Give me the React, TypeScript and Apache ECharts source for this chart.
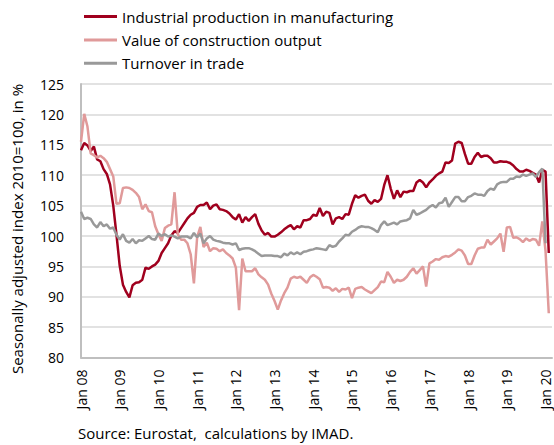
import React, { useEffect, useRef } from "react";
import * as echarts from "echarts";

const MONTHS = ["Jan", "Feb", "Mar", "Apr", "May", "Jun", "Jul", "Aug", "Sep", "Oct", "Nov", "Dec"];
const START_YEAR = 2008;
const N_CATEGORIES = 147;
const categories: string[] = Array.from({ length: N_CATEGORIES }, (_, i) => {
  const y = START_YEAR + Math.floor(i / 12);
  return `${MONTHS[i % 12]} ${String(y % 100).padStart(2, "0")}`;
});

const yTicks = { min: 80, max: 125, step: 5 };

const manufacturing: (number | null)[] = [
  114.1, 115.3, 114.9, 114.0, 114.7, 112.6, 112.3, 111.0, 110.2, 108.5,
  105.0, 100.2, 95.1, 92.0, 90.8, 89.9, 91.9, 92.3, 92.4, 92.8,
  94.8, 94.6, 95.0, 95.3, 95.9, 97.2, 98.0, 98.8, 100.1, 100.8,
  100.5, 101.3, 102.1, 102.9, 103.5, 103.8, 104.8, 105.1, 105.1, 105.5,
  104.4, 105.0, 105.2, 104.4, 104.3, 104.1, 103.7, 103.1, 102.7, 103.6,
  102.2, 103.1, 102.5, 103.1, 103.6, 102.0, 100.9, 100.2, 100.5, 99.9,
  99.9, 100.2, 100.6, 101.1, 101.5, 101.8, 101.1, 101.6, 101.4, 102.6,
  102.6, 102.8, 103.5, 103.3, 104.6, 103.3, 104.0, 103.8, 101.9, 102.9,
  103.1, 102.8, 103.6, 103.5, 105.3, 106.7, 106.3, 106.6, 106.8, 105.8,
  105.3, 105.9, 105.6, 106.1, 108.4, 110.0, 107.8, 106.1, 107.5, 106.4,
  107.3, 107.2, 107.4, 107.4, 108.8, 109.2, 108.8, 108.0, 108.8, 109.3,
  109.9, 110.3, 110.6, 112.1, 112.0, 112.4, 115.2, 115.5, 115.3, 113.5,
  111.9, 111.9, 113.0, 113.7, 113.0, 113.2, 113.2, 112.8, 112.1, 112.1,
  112.3, 112.2, 112.2, 112.0, 111.6, 111.0, 110.6, 110.6, 110.9, 110.7,
  110.4, 110.1, 108.8, 110.9, 110.6, 97.2, null,
];

const construction: (number | null)[] = [
  115.5, 120.1, 118.0, 113.6, 113.3, 112.9, 113.2, 112.8, 112.2, 111.0,
  109.8, 105.3, 105.4, 107.9, 108.0, 107.9, 107.6, 107.1, 106.4, 104.4,
  105.2, 104.1, 103.9, 101.6, 100.3, 99.2, 101.3, 101.7, 101.9, 107.2,
  100.3, 99.4, 99.4, 98.8, 97.0, 92.2, 99.8, 101.5, 98.2, 98.9,
  97.5, 98.0, 97.9, 97.5, 97.8, 97.2, 96.8, 96.3, 94.8, 87.8,
  96.3, 94.2, 94.2, 94.2, 94.7, 93.7, 93.2, 92.8, 92.0, 90.5,
  89.3, 87.9, 89.4, 90.6, 91.5, 93.0, 93.3, 93.1, 93.3, 92.8,
  92.3, 93.2, 93.6, 93.3, 92.9, 91.5, 91.6, 91.5, 91.0, 91.4,
  90.8, 91.3, 91.2, 91.5, 89.8, 91.3, 91.5, 91.6, 91.2, 90.9,
  90.6, 91.1, 91.6, 92.5, 92.4, 94.1, 93.3, 92.3, 92.8, 92.6,
  92.8, 93.3, 94.1, 94.7, 93.8, 94.4, 95.0, 91.7, 95.5, 95.8,
  96.2, 96.1, 96.5, 96.7, 96.6, 96.9, 97.3, 97.8, 97.6, 96.8,
  95.4, 95.4, 96.8, 97.9, 98.1, 98.1, 99.4, 98.6, 99.1, 99.6,
  100.4, 97.4, 101.4, 101.5, 99.7, 99.8, 99.5, 99.0, 99.6, 99.2,
  99.5, 99.4, 98.4, 102.4, 97.5, 87.3, null,
];

const trade: (number | null)[] = [
  104.0, 102.8, 103.0, 102.8, 101.9, 101.4, 102.3, 101.6, 101.9, 101.2,
  101.4, 100.2, 99.4, 100.3, 99.2, 98.9, 99.5, 98.8, 99.3, 99.2,
  99.6, 100.0, 99.5, 99.4, 100.4, 100.0, 100.3, 99.9, 100.1, 99.9,
  99.6, 99.9, 99.9, 99.9, 99.6, 100.5, 99.8, 100.4, 98.8, 99.6,
  100.0, 99.4, 99.2, 99.1, 98.9, 98.8, 98.8, 98.6, 98.8, 97.7,
  97.9, 98.0, 98.0, 97.8, 97.5, 97.1, 96.7, 96.8, 96.8, 96.8,
  96.7, 96.7, 96.5, 97.1, 96.8, 97.3, 97.0, 97.3, 97.0, 97.4,
  97.5, 97.7, 97.8, 98.0, 97.9, 97.8, 97.7, 98.5, 98.2, 98.4,
  99.1, 99.6, 100.2, 100.1, 100.7, 101.0, 101.4, 101.6, 101.5, 101.5,
  101.3, 101.0, 100.6, 101.8, 102.4, 101.8, 102.0, 102.2, 101.9, 102.4,
  102.5, 102.6, 102.9, 104.3, 103.5, 103.7, 104.0, 104.3, 104.8, 105.1,
  104.7, 105.4, 105.5, 106.3, 104.8, 105.6, 106.4, 106.4, 105.7, 105.7,
  106.4, 106.6, 107.0, 106.8, 106.8, 106.6, 107.4, 107.8, 107.6, 108.5,
  108.8, 108.9, 108.9, 109.4, 109.4, 109.8, 109.7, 110.1, 109.9, 110.1,
  110.3, 109.7, 110.5, 111.1, 98.8, null, null,
];

const seriesNames = [
  "Industrial production in manufacturing",
  "Value of construction output",
  "Turnover in trade",
];
const seriesColors = ["#A0001E", "#E09A9A", "#999999"];

const FONT = '"Open Sans", "Noto Sans", sans-serif';

export default function App() {
  const ref = useRef<HTMLDivElement>(null);
  useEffect(() => {
    if (!ref.current) return;
    const chart = echarts.init(ref.current, null, { renderer: "svg" });
    const dataSets = [manufacturing, construction, trade];
    chart.setOption({
      animation: false,
      backgroundColor: "#ffffff",
      textStyle: { fontFamily: FONT, color: "#000" },
      grid: { left: 81, right: 2, top: 84, bottom: 87.4, containLabel: false },
      legend: {
        orient: "vertical",
        left: 79,
        top: 3,
        icon: "rect",
        itemWidth: 33,
        itemHeight: 3,
        itemGap: 6.4,
        textStyle: { fontSize: 15, color: "#000", fontFamily: FONT, lineHeight: 17 },
        data: seriesNames,
      },
      xAxis: {
        type: "category",
        data: categories,
        boundaryGap: false,
        axisTick: { show: false },
        axisLine: { lineStyle: { color: "#BFBFBF", width: 2 } },
        splitLine: { show: false },
        axisLabel: {
          interval: (idx: number) => idx % 12 === 0,
          rotate: 90,
          margin: 12,
          fontSize: 14,
          lineHeight: 12,
          color: "#000",
          fontFamily: FONT,
        },
      },
      yAxis: {
        type: "value",
        min: yTicks.min,
        max: yTicks.max,
        interval: yTicks.step,
        axisLine: { show: true, lineStyle: { color: "#BFBFBF", width: 2 } },
        axisTick: { show: false },
        splitLine: { lineStyle: { color: "#D9D9D9", width: 1.5 } },
        axisLabel: { margin: 17, fontSize: 14, color: "#000", fontFamily: FONT },
      },
      series: seriesNames.map((name, k) => ({
        name,
        type: "line",
        data: dataSets[k],
        symbol: "none",
        connectNulls: false,
        lineStyle: { color: seriesColors[k], width: 2.5 },
        itemStyle: { color: seriesColors[k] },
      })),
      graphic: [
        {
          type: "text",
          x: 17,
          y: 229,
          rotation: Math.PI / 2,
          style: {
            text: "Seasonally adjusted index 2010=100, in %",
            align: "center",
            verticalAlign: "middle",
            font: `15px ${FONT}`,
            fill: "#000",
          },
        },
        {
          type: "text",
          x: 78,
          y: 433,
          style: {
            text: "Source: Eurostat,  calculations by IMAD.",
            align: "left",
            verticalAlign: "middle",
            font: `15px ${FONT}`,
            fill: "#000",
          },
        },
      ],
    });
    return () => chart.dispose();
  }, []);
  return <div ref={ref} style={{ width: 554, height: 445, position: "absolute", left: 0, top: 0 }} />;
}
